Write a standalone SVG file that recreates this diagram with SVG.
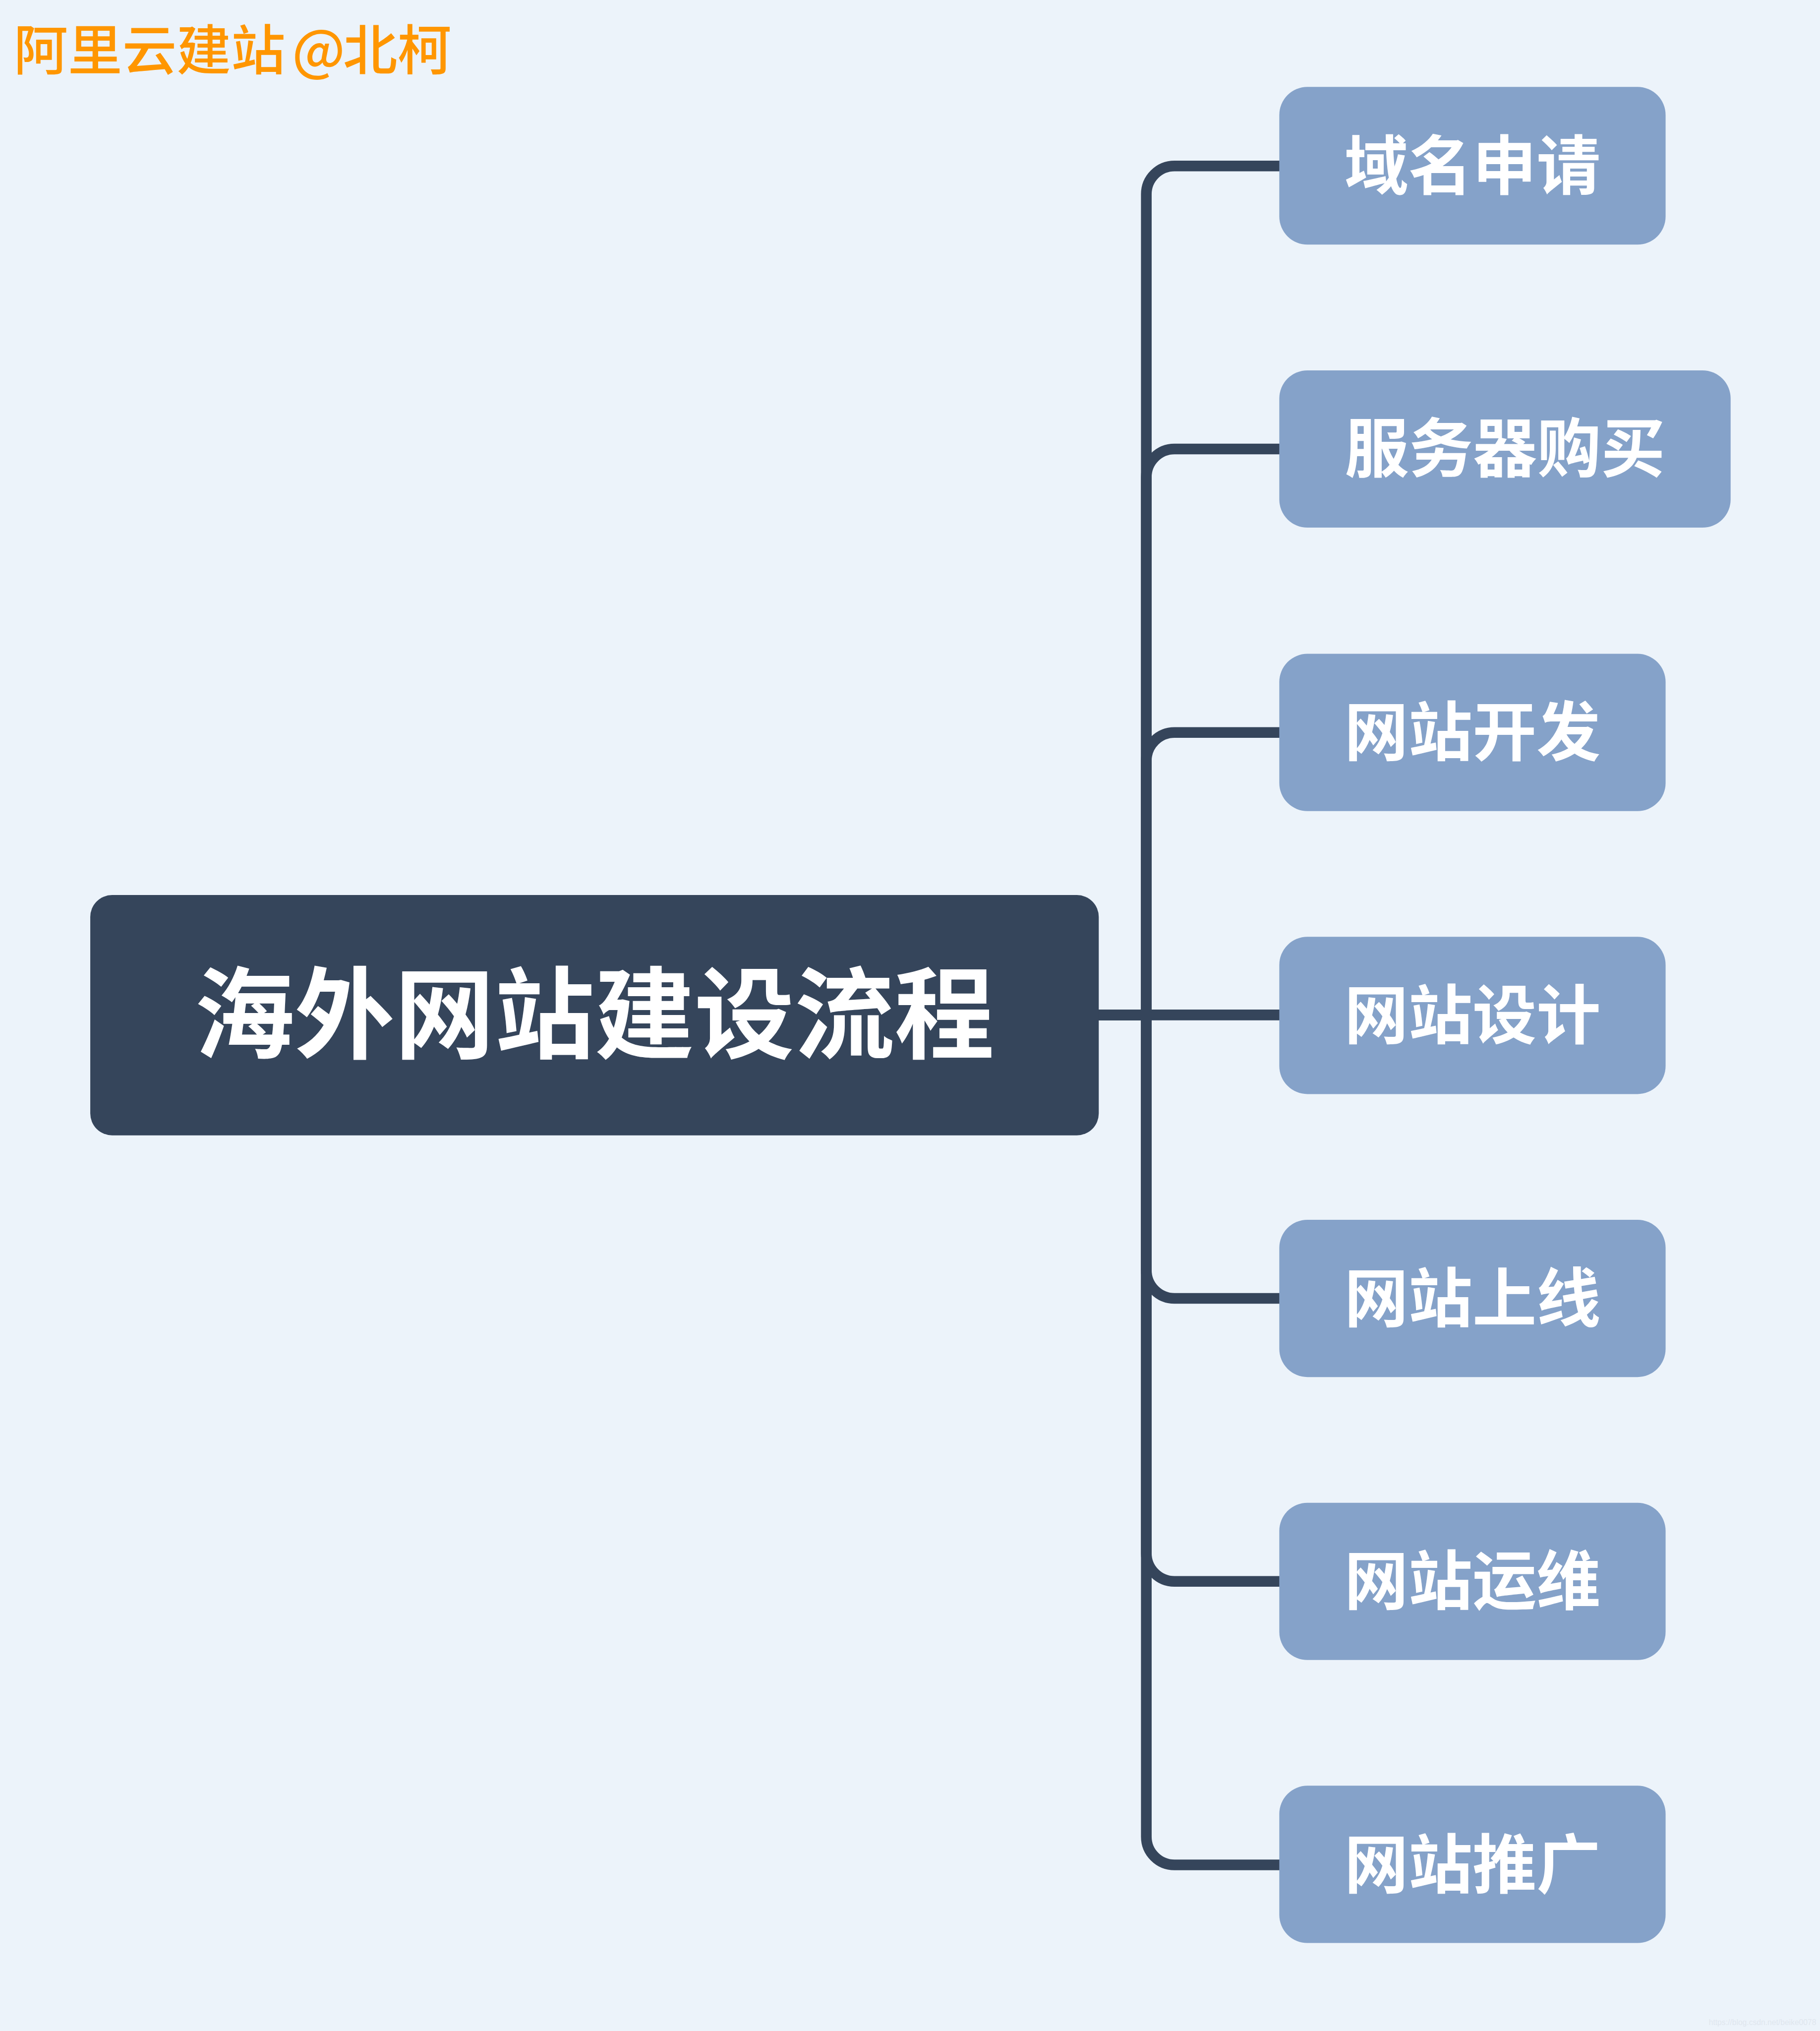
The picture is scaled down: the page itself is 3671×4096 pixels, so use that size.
<svg xmlns="http://www.w3.org/2000/svg" width="3671" height="4096" viewBox="0 0 3671 4096">
<style>
.bg{fill:#ecf3fa}
.root rect{fill:#35455b}
.child rect{fill:#85a2c9}
.rt{font-family:"Noto Sans CJK SC","Noto Sans",sans-serif;font-weight:700;font-size:206px;fill:#ffffff;text-anchor:middle}
.ct{font-family:"Noto Sans CJK SC","Noto Sans",sans-serif;font-weight:700;font-size:132px;fill:#ffffff;text-anchor:middle}
.wm{font-family:"Noto Sans CJK SC","Noto Sans",sans-serif;font-weight:500;font-size:112px;fill:#ff9600}
.url{font-family:"Liberation Sans",Arial,sans-serif;font-size:16px;fill:#dfe6ee}
#connectors path{fill:none;stroke:#35455b;stroke-width:22;stroke-linejoin:round}
</style>
<rect class="bg" x="0" y="0" width="3671" height="4096"/>
<g transform="scale(0.9789)">
  <g id="connectors">
    <path d="M2264 2091 H2362 V400 A58 58 0 0 1 2420 342 H2640"/>
    <path d="M2264 2091 H2362 V983 A58 58 0 0 1 2420 925 H2640"/>
    <path d="M2264 2091 H2362 V1567 A58 58 0 0 1 2420 1509 H2640"/>
    <path d="M2264 2091 H2640"/>
    <path d="M2264 2091 H2362 V2617 A58 58 0 0 0 2420 2675 H2640"/>
    <path d="M2264 2091 H2362 V3200 A58 58 0 0 0 2420 3258 H2640"/>
    <path d="M2264 2091 H2362 V3784 A58 58 0 0 0 2420 3842 H2640"/>
  </g>
  <g id="root" class="root">
    <rect x="186" y="1844" width="2078" height="495" rx="45" ry="45"/>
    <text class="rt" x="1225" y="2165">海外网站建设流程</text>
  </g>
  <g id="n1" class="child">
    <rect x="2636" y="179" width="796" height="325" rx="58" ry="58"/>
    <text class="ct" x="3034" y="389">域名申请</text>
  </g>
  <g id="n2" class="child">
    <rect x="2636" y="763" width="930" height="324" rx="58" ry="58"/>
    <text class="ct" x="3101" y="972">服务器购买</text>
  </g>
  <g id="n3" class="child">
    <rect x="2636" y="1347" width="796" height="324" rx="58" ry="58"/>
    <text class="ct" x="3034" y="1556">网站开发</text>
  </g>
  <g id="n4" class="child">
    <rect x="2636" y="1930" width="796" height="324" rx="58" ry="58"/>
    <text class="ct" x="3034" y="2139">网站设计</text>
  </g>
  <g id="n5" class="child">
    <rect x="2636" y="2513" width="796" height="324" rx="58" ry="58"/>
    <text class="ct" x="3034" y="2722">网站上线</text>
  </g>
  <g id="n6" class="child">
    <rect x="2636" y="3096" width="796" height="324" rx="58" ry="58"/>
    <text class="ct" x="3034" y="3305">网站运维</text>
  </g>
  <g id="n7" class="child">
    <rect x="2636" y="3679" width="796" height="324" rx="58" ry="58"/>
    <text class="ct" x="3034" y="3889">网站推广</text>
  </g>
  <text class="wm" x="28" y="144">阿里云建站<tspan dx="14">@</tspan><tspan dx="-4">北柯</tspan></text>
  <text class="url" x="3521" y="4172">https://blog.csdn.net/beike0078</text>
</g>
</svg>
